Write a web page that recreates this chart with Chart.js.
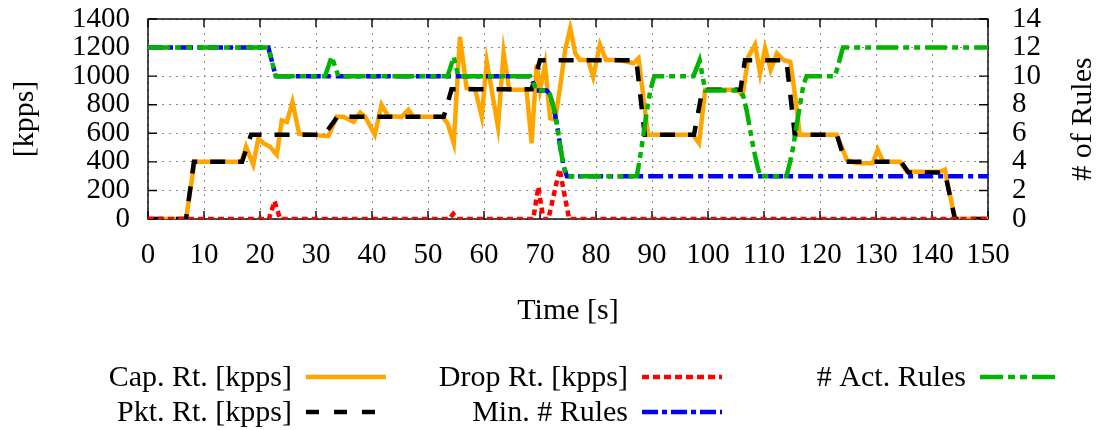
<!DOCTYPE html>
<html>
<head>
<meta charset="utf-8">
<title>Capture rate and active rules</title>
<script src="https://cdn.jsdelivr.net/npm/chart.js@4.4.1/dist/chart.umd.min.js"></script>
<style>
  body { margin: 0; background: #fff; }
  canvas { display: block; }
</style>
</head>
<body>
<canvas id="chart" width="1099" height="430"></canvas>
<script>
// time [s] / value pairs
const capT = [0, 6.8, 8.3, 16.7, 17.5, 18.8, 19.7, 20.6, 21.8, 23.0, 23.9, 24.8, 25.8, 27.0, 32.2, 33.7, 34.9, 36.7, 37.9, 38.8, 40.5, 41.7, 42.9, 45.3, 46.5, 47.4, 52.6, 53.5, 54.6, 55.7, 56.9, 58.4, 59.6, 60.5, 62.5, 63.5, 64.5, 67.6, 68.5, 69.4, 70.0, 70.9, 71.8, 72.7, 73.6, 74.5, 75.4, 76.3, 77.1, 78.6, 79.5, 80.7, 81.8, 84.3, 86.7, 87.6, 89.3, 97.3, 98.4, 99.5, 105.1, 106.2, 107.2, 108.4, 109.3, 110.2, 111.2, 112.3, 113.5, 114.7, 115.6, 116.4, 123.0, 124.8, 126.6, 129.4, 130.3, 131.3, 134.3, 135.5, 141.4, 142.3, 144.1, 150];
const capV = [0, 0, 400, 400, 505, 380, 565, 530, 505, 450, 690, 680, 820, 595, 580, 715, 715, 680, 745, 715, 590, 800, 720, 715, 765, 715, 715, 670, 530, 1275, 915, 910, 715, 1100, 645, 1165, 905, 905, 530, 1080, 905, 1080, 705, 695, 925, 1185, 1335, 1160, 1113, 1113, 995, 1220, 1113, 1113, 1090, 1125, 590, 590, 530, 905, 905, 870, 1135, 1220, 1020, 1195, 1045, 1160, 1113, 1100, 850, 590, 590, 413, 390, 390, 485, 400, 400, 330, 330, 345, 0, 0];

const pktT = [0, 6.8, 8.2, 16.8, 18.4, 31.5, 33.8, 52.8, 54.2, 68.5, 70, 87.2, 88.7, 97.5, 99, 105.8, 106.6, 114, 115.5, 123, 124.5, 134.5, 135.8, 142.3, 144.1, 150];
const pktV = [0, 0, 400, 400, 590, 590, 715, 715, 908, 908, 1112, 1112, 590, 590, 905, 905, 1112, 1112, 590, 590, 400, 400, 325, 325, 0, 0];

const dropT = [0, 21.6, 22.6, 23.6, 53.8, 54.5, 55.2, 68.8, 69.7, 70.6, 71.5, 73.5, 75.2, 150];
const dropV = [0, 0, 125, 0, 0, 35, 0, 0, 225, 0, 0, 350, 0, 0];

const minT = [0, 21.5, 22.8, 68.2, 69.4, 71.2, 71.8, 72.4, 73.0, 73.6, 74.2, 74.8, 150];
const minV = [12, 12, 10, 10, 9, 9, 8.7, 7.85, 6.7, 5.1, 3.7, 3, 3];

const actT = [0, 21.5, 22.8, 31.6, 32.8, 34.0, 53.5, 54.6, 55.4, 68.2, 69.4, 71.2, 71.8, 72.4, 73.0, 73.6, 74.2, 74.8, 87.3, 87.9, 88.5, 89.1, 89.7, 90.4, 97.4, 98.5, 99.5, 105.4, 106.3, 106.9, 107.5, 108.1, 108.7, 109.3, 114.0, 114.6, 115.2, 115.8, 116.4, 117.0, 117.6, 122.7, 124.1, 150];
const actV = [12, 12, 10, 10, 11.35, 10, 10, 11.35, 10, 10, 9, 9, 8.7, 7.85, 6.7, 5.1, 3.7, 3, 3, 4.4, 6.0, 7.6, 9.0, 10, 10, 11.1, 9, 9, 8.6, 7.6, 6.3, 5.0, 3.9, 3, 3, 3.9, 5.0, 6.5, 7.9, 9.3, 10, 10, 12, 12];

const seriesLabels = ["Cap. Rt. [kpps]", "Pkt. Rt. [kpps]", "Drop Rt. [kpps]", "Min. # Rules", "# Act. Rules"];

const FONT = "30px 'Liberation Serif', 'Times New Roman', serif";
const tickFont = { family: "'Liberation Serif', serif", size: 29 };

function pts(ts, vs) {
  return ts.map((t, i) => ({ x: t, y: vs[i] }));
}

function noPad(s) {
  s.paddingTop = 0; s.paddingBottom = 0; s.paddingLeft = 0; s.paddingRight = 0;
}

// where each legend entry sits: right edge of text, centre line
const legendSlots = [
  { x: 292, y: 377 }, { x: 292, y: 412 },
  { x: 628, y: 377 }, { x: 628, y: 412 },
  { x: 966, y: 377 }
];

const framePlugin = {
  id: "frame",
  beforeDatasetsDraw(chart) {
    const { ctx, chartArea: a, scales } = chart;
    ctx.save();
    ctx.strokeStyle = "#000";
    ctx.lineWidth = 1.4;
    ctx.setLineDash([]);
    ctx.strokeRect(a.left, a.top, a.right - a.left, a.bottom - a.top);
    ctx.beginPath();
    scales.x.ticks.forEach(t => {
      const px = scales.x.getPixelForValue(t.value);
      ctx.moveTo(px, a.bottom); ctx.lineTo(px, a.bottom - 8);
      ctx.moveTo(px, a.top); ctx.lineTo(px, a.top + 8);
    });
    scales.y.ticks.forEach(t => {
      const py = scales.y.getPixelForValue(t.value);
      ctx.moveTo(a.left, py); ctx.lineTo(a.left + 9, py);
    });
    scales.y1.ticks.forEach(t => {
      const py = scales.y1.getPixelForValue(t.value);
      ctx.moveTo(a.right, py); ctx.lineTo(a.right - 9, py);
    });
    ctx.stroke();
    ctx.restore();
  }
};

const titlesPlugin = {
  id: "titles",
  afterDraw(chart) {
    const { ctx, chartArea: a } = chart;
    const midY = (a.top + a.bottom) / 2;
    ctx.save();
    ctx.font = FONT;
    ctx.fillStyle = "#000";
    ctx.textAlign = "center";
    ctx.textBaseline = "middle";
    ctx.fillText("Time [s]", (a.left + a.right) / 2, 311);
    ctx.translate(25, midY);
    ctx.rotate(-Math.PI / 2);
    ctx.fillText("[kpps]", 0, 0);
    ctx.restore();
    ctx.save();
    ctx.font = FONT;
    ctx.textAlign = "center";
    ctx.textBaseline = "middle";
    ctx.translate(1083, midY);
    ctx.rotate(-Math.PI / 2);
    ctx.fillText("# of Rules", 0, 0);
    ctx.restore();

    // legend: text on the left, line sample on the right
    chart.data.datasets.forEach((ds, i) => {
      const s = legendSlots[i];
      ctx.save();
      ctx.font = FONT;
      ctx.fillStyle = "#000";
      ctx.textAlign = "right";
      ctx.textBaseline = "alphabetic";
      ctx.fillText(ds.label, s.x, s.y + 9);
      ctx.strokeStyle = ds.borderColor;
      ctx.lineWidth = 4.5;
      ctx.setLineDash(ds.legendDash);
      ctx.beginPath();
      ctx.moveTo(s.x + 14, s.y);
      ctx.lineTo(s.x + 94, s.y);
      ctx.stroke();
      ctx.restore();
    });
  }
};

const common = { pointRadius: 0, borderWidth: 4.5, tension: 0, fill: false };

new Chart(document.getElementById("chart"), {
  type: "line",
  data: {
    datasets: [
      { ...common, label: seriesLabels[0], data: pts(capT, capV), borderColor: "#ffa500", borderDash: [], legendDash: [], yAxisID: "y", order: 5 },
      { ...common, label: seriesLabels[1], data: pts(pktT, pktV), borderColor: "#000000", borderDash: [15, 13], legendDash: [13, 15], yAxisID: "y", order: 4 },
      { ...common, label: seriesLabels[2], data: pts(dropT, dropV), borderColor: "#ff0000", borderDash: [6, 4], legendDash: [7, 4], yAxisID: "y", order: 3 },
      { ...common, label: seriesLabels[3], data: pts(minT, minV), borderColor: "#0000ff", borderDash: [15, 5, 5, 5], legendDash: [16, 4, 5, 4], yAxisID: "y1", order: 2 },
      { ...common, label: seriesLabels[4], data: pts(actT, actV), borderColor: "#00b400", borderDash: [22, 5, 6, 5, 6, 5], legendDash: [23, 5, 7, 5, 7, 5], yAxisID: "y1", order: 1 }
    ]
  },
  options: {
    responsive: false,
    animation: false,
    layout: { padding: { top: 19, left: 0, right: 0, bottom: 0 } },
    plugins: { legend: { display: false }, tooltip: { enabled: false } },
    scales: {
      x: {
        type: "linear",
        min: 0, max: 150,
        ticks: { stepSize: 10, autoSkip: false, color: "#000", font: tickFont, padding: 19, maxRotation: 0, callback: v => String(v) },
        grid: { color: "#8a8a8a", lineWidth: 1, drawTicks: false },
        border: { display: false, dash: [2, 5] },
        afterFit(s) { s.height = 211; noPad(s); }
      },
      y: {
        position: "left",
        min: 0, max: 1400,
        ticks: { stepSize: 200, autoSkip: false, color: "#000", font: tickFont, padding: 18, callback: v => String(v) },
        grid: { color: "#8a8a8a", lineWidth: 1, drawTicks: false },
        border: { display: false, dash: [2, 5] },
        afterFit(s) { s.width = 148; noPad(s); }
      },
      y1: {
        position: "right",
        min: 0, max: 14,
        ticks: { stepSize: 2, autoSkip: false, color: "#000", font: tickFont, padding: 24, callback: v => String(v) },
        grid: { display: false, drawTicks: false },
        border: { display: false },
        afterFit(s) { s.width = 111; noPad(s); }
      }
    }
  },
  plugins: [framePlugin, titlesPlugin]
});
</script>
</body>
</html>
